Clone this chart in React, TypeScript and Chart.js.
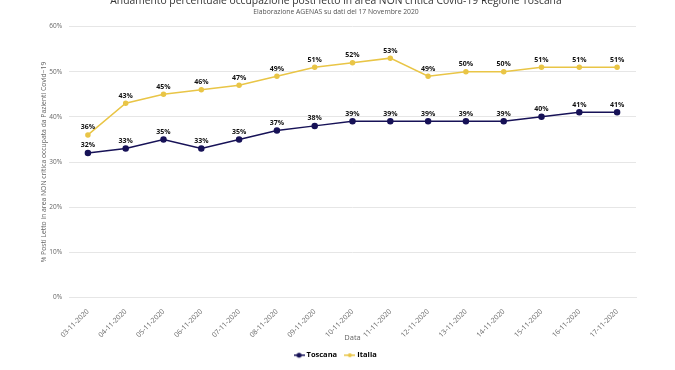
import React, { useEffect, useRef } from "react";
import { Chart, registerables } from "chart.js";

Chart.register(...registerables);

const categories = [
  "03-11-2020", "04-11-2020", "05-11-2020", "06-11-2020", "07-11-2020",
  "08-11-2020", "09-11-2020", "10-11-2020", "11-11-2020", "12-11-2020",
  "13-11-2020", "14-11-2020", "15-11-2020", "16-11-2020", "17-11-2020",
];
const toscana = [32, 33, 35, 33, 35, 37, 38, 39, 39, 39, 39, 39, 40, 41, 41];
const italia = [36, 43, 45, 46, 47, 49, 51, 52, 53, 49, 50, 50, 51, 51, 51];
const yTicks = [0, 10, 20, 30, 40, 50, 60];

const TITLE = "Andamento percentuale occupazione posti letto in area NON critica Covid-19 Regione Toscana";
const SUBTITLE = "Elaborazione AGENAS su dati del 17 Novembre 2020";
const Y_TITLE = "% Posti Letto in area NON critica occupata da Pazienti Covid\u221219";
const X_TITLE = "Data";

const NAVY = "#171257";
const GOLD = "#e9c546";
const FONT = "'Open Sans', 'DejaVu Sans', sans-serif";

function legendIcon(color: string, r: number) {
  const c = document.createElement("canvas");
  c.width = 11;
  c.height = 8;
  const ctx = c.getContext("2d")!;
  ctx.strokeStyle = color;
  ctx.lineWidth = 1.5;
  ctx.beginPath();
  ctx.moveTo(0, 4);
  ctx.lineTo(11, 4);
  ctx.stroke();
  ctx.fillStyle = color;
  ctx.beginPath();
  ctx.arc(5.5, 4, r, 0, Math.PI * 2);
  ctx.fill();
  return c;
}

const labelPlugin = {
  id: "pointLabels",
  afterDatasetsDraw(chart: any) {
    const ctx = chart.ctx;
    ctx.save();
    ctx.font = `bold 7px ${FONT}`;
    ctx.fillStyle = "#111";
    ctx.textAlign = "center";
    ctx.textBaseline = "bottom";
    chart.data.datasets.forEach((ds: any, i: number) => {
      const meta = chart.getDatasetMeta(i);
      meta.data.forEach((pt: any, j: number) => {
        ctx.fillText(`${ds.data[j]}%`, pt.x, pt.y - 4);
      });
    });
    ctx.restore();
  },
};

export default function App() {
  const ref = useRef<HTMLCanvasElement>(null);
  useEffect(() => {
    document.body.style.margin = "0";
    const iconT = legendIcon(NAVY, 2.5);
    const iconI = legendIcon(GOLD, 2);
    const chart = new Chart(ref.current!, {
      type: "line",
      data: {
        labels: categories,
        datasets: [
          {
            label: "Toscana",
            data: toscana,
            borderColor: NAVY,
            backgroundColor: NAVY,
            borderWidth: 1.5,
            pointRadius: 2.5,
            pointHoverRadius: 2.5,
            tension: 0,
          },
          {
            label: "Italia",
            data: italia,
            borderColor: GOLD,
            backgroundColor: GOLD,
            borderWidth: 1.5,
            pointRadius: 2,
            pointHoverRadius: 2,
            tension: 0,
          },
        ],
      },
      options: {
        animation: false,
        responsive: false,
        layout: { padding: { left: 36, right: 39, top: 0, bottom: 1 } },
        elements: { point: { pointStyle: "circle" } },
        plugins: {
          title: {
            display: true,
            text: TITLE,
            color: "#333",
            font: { family: FONT, size: 10.3, weight: "normal" },
            padding: { top: 5, bottom: 1 },
          },
          subtitle: {
            display: true,
            text: SUBTITLE,
            color: "#555",
            font: { family: FONT, size: 6.8 },
            padding: { top: 0, bottom: 10 },
          },
          legend: {
            position: "bottom",
            labels: {
              font: { family: FONT, size: 7.5, weight: "bold" },
              color: "#333",
              usePointStyle: true,
              boxWidth: 11,
              boxHeight: 8,
              padding: 9,
              generateLabels: (chart: any) =>
                chart.data.datasets.map((ds: any, i: number) => ({
                  text: ds.label,
                  pointStyle: i === 0 ? iconT : iconI,
                  fillStyle: ds.borderColor,
                  strokeStyle: ds.borderColor,
                  lineWidth: 0,
                  datasetIndex: i,
                  hidden: false,
                })),
            },
          },
          tooltip: { enabled: false },
        },
        scales: {
          x: {
            offset: true,
            grid: { display: false },
            border: { color: "#e6e6e6" },
            afterFit: (scale: any) => {
              scale.height = 45;
            },
            ticks: {
              autoSkip: false,
              maxRotation: 45,
              minRotation: 45,
              color: "#666",
              font: { family: FONT, size: 7 },
              padding: 2,
            },
            title: {
              display: true,
              text: X_TITLE,
              color: "#666",
              font: { family: FONT, size: 7.5 },
              padding: { top: 2, bottom: 0 },
            },
          },
          y: {
            min: 0,
            max: 60,
            afterBuildTicks: (scale: any) => {
              scale.ticks = yTicks.map((v) => ({ value: v }));
            },
            afterFit: (scale: any) => {
              scale.width = 33;
            },
            grid: { color: "#e6e6e6", drawTicks: false },
            border: { display: false },
            ticks: {
              color: "#666",
              font: { family: FONT, size: 6.5 },
              padding: 7,
              callback: (v: any) => `${v}%`,
            },
            title: {
              display: true,
              text: Y_TITLE,
              color: "#666",
              font: { family: FONT, size: 6.8 },
              padding: { top: 4, bottom: 0 },
            },
          },
        },
      },
      plugins: [labelPlugin],
    });
    return () => chart.destroy();
  }, []);
  return (
    <div style={{ position: "absolute", left: 0, top: -10, width: 675, height: 380 }}>
      <canvas ref={ref} width={675} height={380} style={{ display: "block" }} />
    </div>
  );
}
